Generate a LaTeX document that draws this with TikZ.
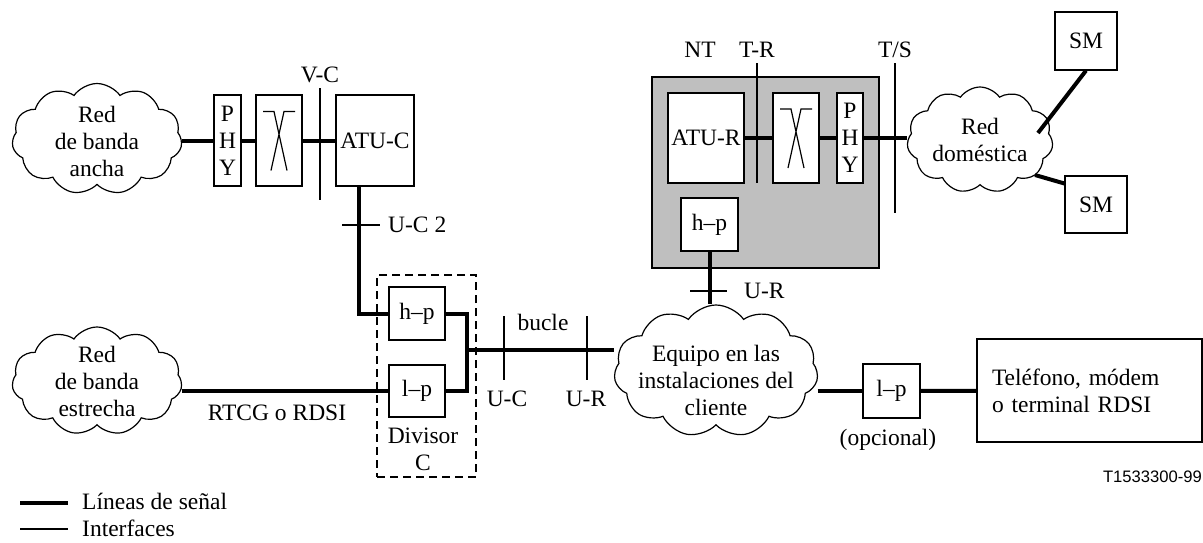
\documentclass[tikz,border=0pt]{standalone}
\usepackage{fontspec}
\setmainfont{Liberation Serif}
\newfontfamily\tagfont{Liberation Sans}
\usetikzlibrary{shapes.symbols}

\begin{document}
\begin{tikzpicture}[
  x=1pt, y=-1pt,
  font=\fontsize{23.5}{27}\selectfont,
  box/.style={draw, line width=1.2pt, fill=white, inner sep=0pt, align=center},
  net/.style={draw, cloud, cloud puffs=11, cloud puff arc=110, cloud ignores aspect,
              fill=white, line width=1.2pt, inner sep=0pt},
  sig/.style={line width=4pt},
  iface/.style={line width=2pt},
  lbl/.style={inner sep=0pt}
]
\useasboundingbox (0,0) rectangle (1203,542);

% broadband side
\node[net, minimum width=170, minimum height=111] (bband) at (97,139) {};
\node[align=center] (bbandTxt) at (97,141) {Red\\de banda\\ancha};
\node[box, minimum width=27, minimum height=91] (phyC) at (227.5,140.5) {P\\H\\Y};
\node[box, minimum width=46, minimum height=91] (xC) at (279,140.5) {};
\node[box, minimum width=78, minimum height=91] (atuC) at (375,140.5) {ATU-C};

% narrowband side and splitter
\node[net, minimum width=170, minimum height=108] (nband) at (97,381) {};
\node[align=center] (nbandTxt) at (97,381) {Red\\de banda\\estrecha};
\node[draw, line width=1.6pt, dash pattern=on 8pt off 5pt, inner sep=0pt,
      minimum width=99, minimum height=202] (split) at (426.5,376) {};
\node[box, minimum width=56, minimum height=53] (hpC) at (417,313.5) {h–p};
\node[box, minimum width=56, minimum height=52] (lpC) at (417,391) {l–p};
\node[align=center] (splitTxt) at (423,449.5) {Divisor\\C};
\coordinate (jn) at (467,350);

% customer premises
\node[net, minimum width=204, minimum height=132] (cpe) at (716,371) {};
\node[align=center] (cpeTxt) at (716,380) {Equipo en las\\instalaciones del\\cliente};
\node[box, minimum width=57, minimum height=54] (lpO) at (891.5,391) {l–p};
\node (optTxt) at (888,440) {(opcional)};
\node[box, align=left, text width=195, inner xsep=15pt, minimum height=103] (tel)
  at (1089.5,390.5) {Teléfono, módem\\o terminal RDSI};

% NT
\node[draw, line width=1.2pt, fill=black!25, inner sep=0pt,
      minimum width=227, minimum height=191] (nt) at (765.5,172.5) {};
\node[box, minimum width=76, minimum height=90] (atuR) at (706,138) {ATU-R};
\node[box, minimum width=46, minimum height=90] (xR) at (796,138) {};
\node[box, minimum width=26, minimum height=90] (phyR) at (850,138) {P\\H\\Y};
\node[box, minimum width=57, minimum height=53] (hpR) at (709.5,224.5) {h–p};

% home network
\node[net, minimum width=146, minimum height=106] (home) at (980,140) {};
\node[align=center] (homeTxt) at (980,140) {Red\\doméstica};
\node[box, minimum width=62, minimum height=58] (smA) at (1086,41) {SM};
\node[box, minimum width=62, minimum height=57] (smB) at (1096,204.5) {SM};
\coordinate (homeA) at (1038,133);
\coordinate (homeB) at (1035,175);

% crossover symbols
\foreach \b in {xC,xR}
  \draw[line width=1.2pt] ([shift={(-16,-29)}]\b.center) -- ++(11,0) -- ([shift={(8,30)}]\b.center)
    ([shift={(16,-29)}]\b.center) -- ++(-11,0) -- ([shift={(-8,30)}]\b.center);

% signal lines
\draw[sig] (phyC.west -| bband.east) -- (phyC.west);
\draw[sig] (phyC) -- (xC) -- (atuC);
\draw[sig] ([xshift=-16pt]atuC.south) |- (hpC.west);
\draw[sig] (lpC.west -| nband.east) -- (lpC.west);
\draw[sig] (hpC.east) -| (jn) |- (lpC.east);
\draw[sig] (jn) -- (jn -| cpe.west);
\draw[sig] (hpR.south) -- (hpR.south |- cpe.north);
\draw[sig] (lpO.west -| cpe.east) -- (lpO.west);
\draw[sig] (lpO) -- (tel);
\draw[sig] (atuR) -- (xR) -- (phyR);
\draw[sig] (phyR.east) -- (phyR.east -| home.west);
\draw[sig] (smA.south) -- (homeA);
\draw[sig] (homeB) -- ([yshift=21pt]smB.west);

% interfaces
\draw[iface] (320,88) -- (320,200);
\draw[iface] (342,225) -- (380,225);
\draw[iface] (504,316) -- (504,380);
\draw[iface] (587,316) -- (587,380);
\draw[iface] (757,63) -- (757,183);
\draw[iface] (895,63) -- (895,213);
\draw[iface] (690,291) -- (727,291);

% labels
\node (lVC) at (320,75) {V-C};
\node[lbl, anchor=west] (lUC2) at (388,225) {U-C 2};
\node (lNT) at (700,50) {NT};
\node (lTR) at (757,50) {T-R};
\node (lTS) at (895,50) {T/S};
\node[lbl, anchor=west] (lURa) at (744,291) {U-R};
\node (lBucle) at (543,322) {bucle};
\node (lUC) at (507,399) {U-C};
\node (lURb) at (586,399) {U-R};
\node (lPstn) at (277,413) {RTCG o RDSI};
\node[lbl, anchor=east, font=\tagfont\fontsize{16.6}{19}\selectfont] (tag) at (1202,477) {T1533300-99};

% legend
\draw[sig] (20,503) -- (68,503);
\draw[iface] (20,529) -- (68,529);
\node[lbl, anchor=west] (legSig) at (82,501) {Líneas de señal};
\node[lbl, anchor=west] (legIf) at (82,528) {Interfaces};
\end{tikzpicture}
\end{document}
